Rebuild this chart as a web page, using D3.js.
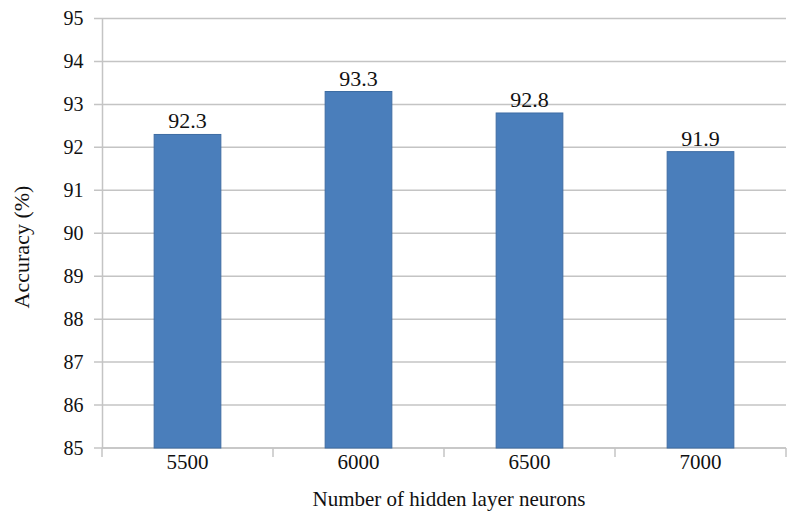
<!DOCTYPE html>
<html>
<head>
<meta charset="utf-8">
<script src="https://cdn.jsdelivr.net/npm/d3@7/dist/d3.min.js"></script>
<style>
  html, body { margin: 0; padding: 0; background: #fff; }
  svg { display: block; }
  text { font-family: "Liberation Serif", "Times New Roman", serif; fill: #111; }
</style>
</head>
<body>
<svg id="chart" width="791" height="515"></svg>
<script>
// Hidden layer size vs. classification accuracy
const neurons = ["5500", "6000", "6500", "7000"];
const accuracy = [92.3, 93.3, 92.8, 91.9];
const yTicks = [85, 86, 87, 88, 89, 90, 91, 92, 93, 94, 95];

const margin = { left: 102, right: 5, top: 18.5, bottom: 67 };
const W = 791, H = 515;
const svg = d3.select("#chart");

const x = d3.scaleBand().domain(neurons).range([margin.left, W - margin.right]).padding(0);
const y = d3.scaleLinear().domain([85, 95]).range([H - margin.bottom, margin.top]);
const barW = x.bandwidth() * 0.39;
const gridColor = "#c4c4c4";

// horizontal gridlines with short ticks to the left of the axis
svg.append("g")
  .selectAll("line")
  .data(yTicks)
  .join("line")
  .attr("x1", margin.left - 8)
  .attr("x2", W - margin.right)
  .attr("y1", d => y(d))
  .attr("y2", d => y(d))
  .attr("stroke", gridColor)
  .attr("stroke-width", 1.5);

// y axis labels
const yAxis = d3.axisLeft(y).tickValues(yTicks).tickSize(0).tickPadding(18.5);
const gy = svg.append("g").attr("transform", `translate(${margin.left},0)`).call(yAxis);
gy.attr("font-family", null);
gy.select(".domain").attr("stroke", gridColor).attr("stroke-width", 1.5);
gy.selectAll("text").style("font-size", "20px").attr("fill", "#111");

// x axis with category boundaries
const gx = svg.append("g").attr("transform", `translate(0,${y(85)})`);
gx.append("line")
  .attr("x1", margin.left).attr("x2", W - margin.right)
  .attr("stroke", gridColor).attr("stroke-width", 1.5);
const bounds = neurons.map(d => x(d)).concat([x(neurons[neurons.length - 1]) + x.bandwidth()]);
gx.selectAll("line.tick")
  .data(bounds)
  .join("line")
  .attr("class", "tick")
  .attr("x1", d => d).attr("x2", d => d)
  .attr("y1", 0).attr("y2", 9)
  .attr("stroke", gridColor).attr("stroke-width", 1.5);
gx.selectAll("text")
  .data(neurons)
  .join("text")
  .attr("x", d => x(d) + x.bandwidth() / 2)
  .attr("y", 21)
  .attr("text-anchor", "middle")
  .style("font-size", "21px")
  .text(d => d);

// bars
const data = neurons.map((n, i) => ({ n, v: accuracy[i] }));
svg.append("g")
  .selectAll("rect")
  .data(data)
  .join("rect")
  .attr("x", d => x(d.n) + (x.bandwidth() - barW) / 2)
  .attr("y", d => y(d.v))
  .attr("width", barW)
  .attr("height", d => y(85) - y(d.v))
  .attr("fill", "#4a7ebb")
  .attr("stroke", "#3d6ca3")
  .attr("stroke-width", 1);

// value labels
svg.append("g")
  .selectAll("text")
  .data(data)
  .join("text")
  .attr("x", d => x(d.n) + x.bandwidth() / 2)
  .attr("y", d => y(d.v) - 6)
  .attr("text-anchor", "middle")
  .style("font-size", "22px")
  .text(d => d.v.toFixed(1));

// axis titles
svg.append("text")
  .attr("transform", "translate(29,247) rotate(-90)")
  .attr("text-anchor", "middle")
  .style("font-size", "22px")
  .text("Accuracy (%)");

svg.append("text")
  .attr("x", 449)
  .attr("y", 506)
  .attr("text-anchor", "middle")
  .style("font-size", "21px")
  .text("Number of hidden layer neurons");
</script>
</body>
</html>
